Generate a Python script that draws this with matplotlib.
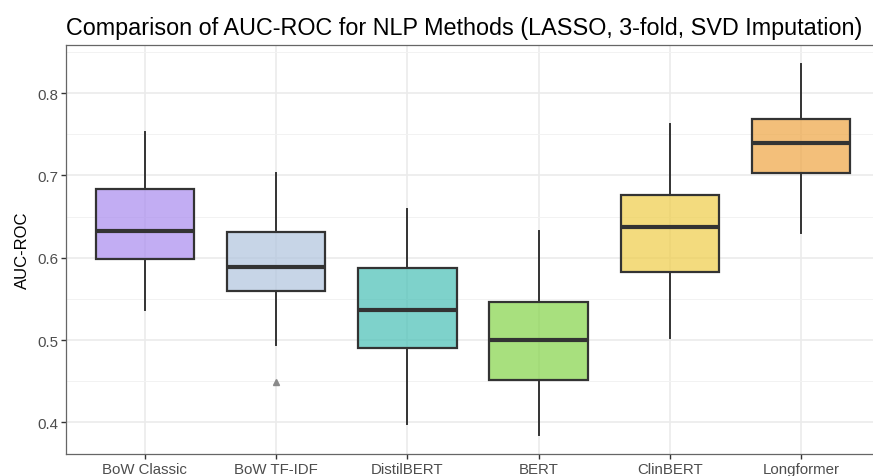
import numpy as np
import matplotlib.pyplot as plt
from matplotlib.colors import to_rgba

plt.rcParams['font.family'] = ['Liberation Sans', 'DejaVu Sans']

methods = ['BoW Classic', 'BoW TF-IDF', 'DistilBERT', 'BERT', 'ClinBERT', 'Longformer']
whisker_low = [0.537, 0.494, 0.398, 0.384, 0.502, 0.630]
q1 = [0.598, 0.559, 0.490, 0.451, 0.583, 0.703]
median = [0.632, 0.589, 0.537, 0.500, 0.637, 0.740]
q3 = [0.683, 0.631, 0.587, 0.546, 0.676, 0.768]
whisker_high = [0.753, 0.703, 0.659, 0.632, 0.763, 0.836]
outliers = [[], [0.449], [], [], [], []]
fill_colors = ['#A98BEE', '#B0C4DE', '#48C0B6', '#84D347', '#EECD47', '#EEA542']

stats = []
for i in range(len(methods)):
    stats.append({'label': methods[i], 'whislo': whisker_low[i], 'q1': q1[i],
                  'med': median[i], 'q3': q3[i], 'whishi': whisker_high[i],
                  'fliers': outliers[i]})

fig = plt.figure(figsize=(8.73, 4.77), dpi=100)
ax = fig.add_axes([66 / 873, 22 / 477, 814 / 873, 409 / 477])

pos = np.arange(1, len(methods) + 1)
bp = ax.bxp(stats, positions=pos, widths=0.75, patch_artist=True, showcaps=False,
            boxprops=dict(edgecolor='#333333', linewidth=1.6),
            medianprops=dict(color='#333333', linewidth=3),
            whiskerprops=dict(color='#333333', linewidth=1.4),
            flierprops=dict(marker='^', markerfacecolor='#8a8a8a', markeredgecolor='#8a8a8a',
                            markersize=4.5))
# translucent fill, solid outline
for patch, c in zip(bp['boxes'], fill_colors):
    patch.set_facecolor(to_rgba(c, 0.7))
    patch.set_edgecolor('#333333')

ax.set_xlim(0.4, 6.6)
ax.set_ylim(0.3615, 0.8585)
ax.set_yticks([0.4, 0.5, 0.6, 0.7, 0.8])
ax.set_yticklabels(['0.4', '0.5', '0.6', '0.7', '0.8'])
ax.set_yticks([0.45, 0.55, 0.65, 0.75, 0.85], minor=True)
ax.set_xticks(pos)
ax.set_xticklabels(methods)

ax.grid(True, which='major', color='#EBEBEB', linewidth=1.2)
ax.grid(True, which='minor', axis='y', color='#F2F2F2', linewidth=0.7)
ax.set_axisbelow(True)
ax.tick_params(axis='both', which='major', length=3.5, width=1, color='#333333',
               labelcolor='#4D4D4D', labelsize=10.8, pad=2)
ax.tick_params(axis='y', which='minor', length=0)
for s in ax.spines.values():
    s.set_color('#666666')
    s.set_linewidth(0.9)

ax.set_ylabel('AUC-ROC', fontsize=12, labelpad=5)
ax.set_title('Comparison of AUC-ROC for NLP Methods (LASSO, 3-fold, SVD Imputation)',
             loc='left', fontsize=16.8, pad=8)

fig.savefig('out.png', dpi=100)
